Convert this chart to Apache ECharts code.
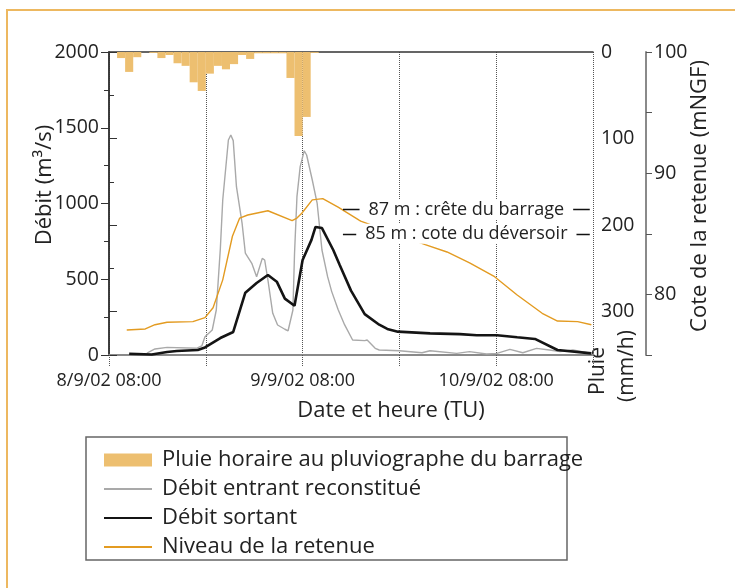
<!DOCTYPE html>
<html>
<head>
<meta charset="utf-8">
<script src="https://cdn.jsdelivr.net/npm/echarts@6/dist/echarts.min.js"></script>
<style>
    html, body { margin: 0; padding: 0; background: #fff; }
    #chart { width: 735px; height: 588px; }
</style>
</head>
<body>
<div id="chart"></div>
<script>
    // hours since 8/9/02 08:00 (TU)
    var tickHours = [0, 24, 48];
    var tickLabels = ['8/9/02 08:00', '9/9/02 08:00', '10/9/02 08:00'];

    // hourly rain, hour of start of each bar
    var rainHour = [1, 2, 3, 4, 5, 6, 7, 8, 9, 10, 11, 12, 13, 14, 15, 16, 17, 18, 19, 20, 21, 22, 23, 24, 25];
    var rainMm = [7, 23, 6, 0, 1, 7, 3.5, 13, 16, 35, 45, 25, 16, 20, 14, 3.5, 8, 1.5, 1.5, 1.5, 1.5, 30, 97, 75, 1];

    var inHour = [4.7, 5.7, 7.2, 10.9, 11.5, 11.9, 12.8, 13.3, 13.8, 14.1, 14.8, 15.1, 15.4, 15.8, 16.5, 16.9, 17.7, 18.3,
        19.0, 19.3, 19.7, 20.3, 20.9, 21.8, 22.2, 22.8, 23.0, 23.3, 23.7, 24.2, 24.5, 25.2, 25.8, 26.4, 27.1, 27.6,
        28.4, 29.2, 30.2, 31.7, 32.0, 33.0, 33.5, 36.0, 38.8, 39.8, 43.1, 44.7, 46.8, 48.1, 49.7, 51.3, 53.0, 54.6,
        55.9, 57.5, 59.8];
    var inFlow = [13, 40, 50, 45, 60, 121, 165, 297, 700, 1023, 1419, 1452, 1415, 1111, 869, 673, 605, 517,
        638, 627, 495, 275, 198, 170, 160, 297, 671, 1045, 1243, 1348, 1320, 1155, 1003, 693, 517, 420,
        300, 200, 99, 95, 99, 44, 33, 28, 15, 28, 11, 22, 7, 11, 37, 15, 44, 33,
        22, 33, 11];

    var outHour = [2.5, 5.3, 7.2, 8.4, 11.0, 11.9, 13.8, 15.4, 16.9, 18.3, 19.7, 20.8, 21.8, 23.0, 24.0, 25.1, 25.6,
        26.4, 27.8, 28.6, 30.0, 31.7, 33.5, 34.5, 35.8, 39.8, 43.5, 45.6, 48.1, 50.6, 52.8, 55.6, 59.8];
    var outFlow = [8, 3, 20, 26, 33, 50, 112, 152, 411, 475, 528, 484, 372, 325, 627, 760, 845,
        838, 693, 594, 425, 270, 200, 172, 154, 143, 138, 130, 130, 117, 106, 33, 11];

    var levelHour = [2.2, 4.5, 5.7, 7.2, 10.4, 11.9, 12.9, 14.1, 15.3, 16.2, 17.2, 19.7, 22.7, 23.3, 23.9, 25.2, 26.5,
        28.4, 31.2, 39.2, 41.9, 44.7, 47.8, 50.6, 53.7, 55.6, 58.1, 59.8];
    var levelM = [77.06, 77.15, 77.5, 77.7, 77.75, 78.08, 78.9, 81.2, 84.8, 86.3, 86.55, 86.9, 86.08, 86.3, 86.7, 87.8, 87.9,
        87.2, 86.05, 84.1, 83.5, 82.6, 81.46, 79.95, 78.44, 77.8, 77.75, 77.5];

    var markLevels = [87, 85];
    var markTexts = ['87 m : crête du barrage', '85 m : cote du déversoir'];
    var markSpan = [29, 59.6];

    var names = ['Pluie horaire au pluviographe du barrage', 'Débit entrant reconstitué', 'Débit sortant', 'Niveau de la retenue'];

    function pairs(xs, ys) {
        return xs.map(function (x, i) { return [x, ys[i]]; });
    }

    var font = '"Open Sans", Lato, sans-serif';
    var textCol = '#222';
    var noSymbol = {color: 'rgba(0,0,0,0)', borderWidth: 0, opacity: 0};

    var chart = echarts.init(document.getElementById('chart'));
    chart.setOption({
        animation: false,
        backgroundColor: '#fff',
        textStyle: {fontFamily: font, color: textCol},
        grid: {left: 109, right: 142, top: 52, bottom: 233, containLabel: false},
        legend: {
            orient: 'vertical',
            left: 98,
            top: 444,
            itemWidth: 48,
            itemHeight: 13,
            itemGap: 7,
            textStyle: {fontSize: 22, color: textCol, fontFamily: font, lineHeight: 22, padding: [0, 0, 0, 5]},
            data: [
                {name: names[0], icon: 'rect'},
                {name: names[1], itemStyle: noSymbol},
                {name: names[2], itemStyle: noSymbol},
                {name: names[3], itemStyle: noSymbol}
            ]
        },
        xAxis: [{
            type: 'value', min: 0, max: 60, interval: 12,
            axisLine: {lineStyle: {color: '#8a8a8a', width: 2}},
            axisTick: {length: 12, lineStyle: {color: '#555', type: 'dotted', width: 1}},
            splitLine: {show: true, lineStyle: {color: '#555', type: 'dotted', width: 1}},
            axisLabel: {
                fontSize: 18, color: textCol, margin: 17, fontFamily: font,
                formatter: function (v) {
                    var i = tickHours.indexOf(v);
                    return i < 0 ? '' : tickLabels[i];
                }
            }
        }, {
            type: 'value', position: 'top', min: 0, max: 60,
            axisLine: {lineStyle: {color: '#333', width: 1.5}},
            axisTick: {show: false}, axisLabel: {show: false}, splitLine: {show: false}
        }],
        yAxis: [{
            type: 'value', min: 0, max: 2000, interval: 500, position: 'left',
            axisLine: {show: true, lineStyle: {color: '#333', width: 1.5}},
            axisTick: {show: true, length: 8, lineStyle: {color: '#333'}},
            minorTick: {show: true, splitNumber: 2, length: 5, lineStyle: {color: '#333'}},
            splitLine: {show: false},
            axisLabel: {
                fontSize: 19.5, color: textCol, margin: 10, fontFamily: font,
                formatter: function (v) { return String(v); }
            }
        }, {
            type: 'value', min: 0, max: 350, interval: 100, inverse: true, position: 'right',
            axisLine: {show: true, lineStyle: {color: '#333', width: 1.5}},
            axisTick: {show: true, length: 8, lineStyle: {color: '#333'}},
            minorTick: {show: true, splitNumber: 2, length: 5, lineStyle: {color: '#333'}},
            splitLine: {show: false},
            axisLabel: {
                fontSize: 19.5, color: textCol, margin: 8, fontFamily: font,
                formatter: function (v) { return v % 100 === 0 ? String(v) : ''; }
            }
        }, {
            type: 'value', min: 75, max: 100, interval: 5, position: 'right', offset: 53,
            axisLine: {show: true, lineStyle: {color: '#8a8a8a', width: 2}},
            axisTick: {show: true, length: 6, lineStyle: {color: '#555'}},
            splitLine: {show: false},
            axisLabel: {
                fontSize: 19.5, color: textCol, margin: 8, fontFamily: font,
                formatter: function (v) { return v % 10 === 0 ? String(v) : ''; }
            }
        }],
        series: [{
            name: names[0], type: 'bar', xAxisIndex: 0, yAxisIndex: 1,
            barWidth: 8.1,
            itemStyle: {color: '#edbf70'},
            data: pairs(rainHour.map(function (h) { return h + 0.5; }), rainMm)
        }, {
            name: names[1], type: 'line', yAxisIndex: 0, symbol: 'none',
            lineStyle: {color: '#a9a9a9', width: 1.4}, itemStyle: {color: '#a9a9a9'},
            data: pairs(inHour, inFlow)
        }, {
            name: names[2], type: 'line', yAxisIndex: 0, symbol: 'none',
            lineStyle: {color: '#141414', width: 2.6}, itemStyle: {color: '#141414'},
            data: pairs(outHour, outFlow)
        }, {
            name: names[3], type: 'line', yAxisIndex: 2, symbol: 'none',
            lineStyle: {color: '#e39b21', width: 1.4}, itemStyle: {color: '#e39b21'},
            data: pairs(levelHour, levelM),
            markLine: {
                silent: true, symbol: 'none', z: 10,
                lineStyle: {color: '#111', width: 1.3, type: 'solid'},
                label: {
                    show: true, position: 'middle', distance: 0, verticalAlign: 'middle',
                    fontSize: 18, color: textCol, fontFamily: font,
                    backgroundColor: '#fff', padding: [1, 9, 1, 9],
                    formatter: function (p) { return p.name; }
                },
                data: markLevels.map(function (lv, i) {
                    return [{name: markTexts[i], coord: [markSpan[0], lv]}, {coord: [markSpan[1], lv]}];
                })
            }
        }],
        graphic: [
            {type: 'polyline', silent: true, shape: {points: [[7, 588], [7, 10], [735, 10]]},
                style: {stroke: '#edb860', lineWidth: 2, fill: null}},
            {type: 'rect', silent: true, shape: {x: 86, y: 437, width: 481, height: 123},
                style: {stroke: '#666', lineWidth: 1.5, fill: null}},
            {type: 'text', x: 45, y: 185, rotation: Math.PI / 2,
                style: {text: 'Débit (m³/s)', fontSize: 22, fontFamily: font, fill: textCol, align: 'center', verticalAlign: 'middle'}},
            {type: 'text', x: 391, y: 411,
                style: {text: 'Date et heure (TU)', fontSize: 22, fontFamily: font, fill: textCol, align: 'center', verticalAlign: 'middle'}},
            {type: 'text', x: 598, y: 371, rotation: Math.PI / 2,
                style: {text: 'Pluie', fontSize: 21, fontFamily: font, fill: textCol, align: 'center', verticalAlign: 'middle'}},
            {type: 'text', x: 627, y: 366, rotation: Math.PI / 2,
                style: {text: '(mm/h)', fontSize: 21, fontFamily: font, fill: textCol, align: 'center', verticalAlign: 'middle'}},
            {type: 'text', x: 700, y: 196, rotation: Math.PI / 2,
                style: {text: 'Cote de la retenue (mNGF)', fontSize: 22, fontFamily: font, fill: textCol, align: 'center', verticalAlign: 'middle'}}
        ]
    });
</script>
</body>
</html>
